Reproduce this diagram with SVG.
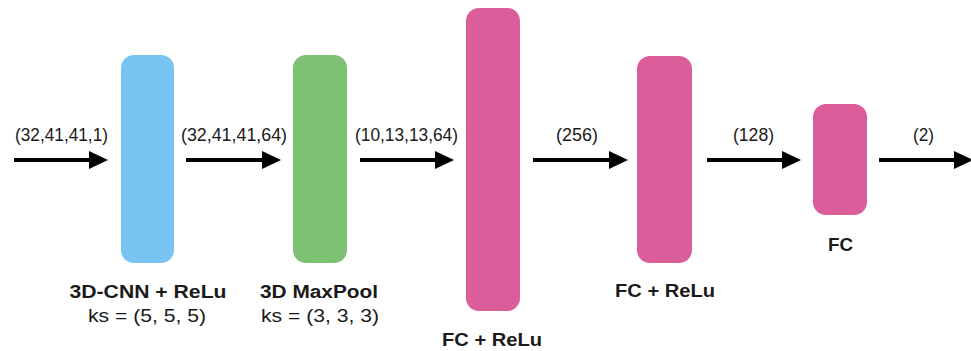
<svg xmlns="http://www.w3.org/2000/svg" width="971" height="351" viewBox="0 0 971 351">
  <defs>
    <marker id="head" markerUnits="userSpaceOnUse" markerWidth="20" markerHeight="20" refX="0" refY="9" orient="auto" overflow="visible">
      <path d="M0,0 L19,9 L0,18 Z" fill="#000"/>
    </marker>
    <style>
      .lbl { font-family: "Liberation Sans", Arial, sans-serif; font-size: 18px; fill: #1a1a1a; text-anchor: middle; }
      .name { font-family: "Liberation Sans", Arial, sans-serif; font-size: 18px; font-weight: bold; fill: #1a1a1a; text-anchor: middle; }
      .conn { stroke: #000; stroke-width: 4; fill: none; marker-end: url(#head); }
      .conv { fill: #77C3F2; }
      .pool { fill: #7DC272; }
      .fc { fill: #DB5E9B; }
    </style>
  </defs>
  <rect width="971" height="351" fill="#fff"/>

  <!-- connectors with tensor shapes -->
  <g id="connectors">
    <path class="conn" d="M14,160 H89"/>
    <path class="conn" d="M186,160 H262"/>
    <path class="conn" d="M360,160 H435"/>
    <path class="conn" d="M533,160 H609"/>
    <path class="conn" d="M707,160 H782"/>
    <path class="conn" d="M879,160 H954"/>
    <text class="lbl" x="61.5" y="141" textLength="93" lengthAdjust="spacingAndGlyphs">(32,41,41,1)</text>
    <text class="lbl" x="234" y="141" textLength="106" lengthAdjust="spacingAndGlyphs">(32,41,41,64)</text>
    <text class="lbl" x="406.5" y="141" textLength="103" lengthAdjust="spacingAndGlyphs">(10,13,13,64)</text>
    <text class="lbl" x="577" y="141" textLength="42" lengthAdjust="spacingAndGlyphs">(256)</text>
    <text class="lbl" x="753.5" y="141" textLength="41" lengthAdjust="spacingAndGlyphs">(128)</text>
    <text class="lbl" x="923.5" y="141" textLength="21" lengthAdjust="spacingAndGlyphs">(2)</text>
  </g>

  <g id="conv3d">
    <rect class="conv" x="121" y="55" width="53" height="208" rx="13"/>
    <text class="name" x="148" y="298" textLength="157" lengthAdjust="spacingAndGlyphs">3D-CNN + ReLu</text>
    <text class="lbl" x="147" y="322" textLength="118" lengthAdjust="spacingAndGlyphs">ks = (5, 5, 5)</text>
  </g>

  <g id="maxpool3d">
    <rect class="pool" x="293" y="55" width="54" height="208" rx="13"/>
    <text class="name" x="319" y="298" textLength="118" lengthAdjust="spacingAndGlyphs">3D MaxPool</text>
    <text class="lbl" x="320" y="322" textLength="118" lengthAdjust="spacingAndGlyphs">ks = (3, 3, 3)</text>
  </g>

  <g id="fc1">
    <rect class="fc" x="466" y="8" width="54" height="303" rx="13"/>
    <text class="name" x="492" y="346" textLength="100" lengthAdjust="spacingAndGlyphs">FC + ReLu</text>
  </g>

  <g id="fc2">
    <rect class="fc" x="637" y="56" width="55" height="207" rx="13"/>
    <text class="name" x="665" y="297" textLength="100" lengthAdjust="spacingAndGlyphs">FC + ReLu</text>
  </g>

  <g id="fc3">
    <rect class="fc" x="813" y="104" width="54" height="111" rx="13"/>
    <text class="name" x="840.5" y="251" textLength="25" lengthAdjust="spacingAndGlyphs">FC</text>
  </g>
</svg>
